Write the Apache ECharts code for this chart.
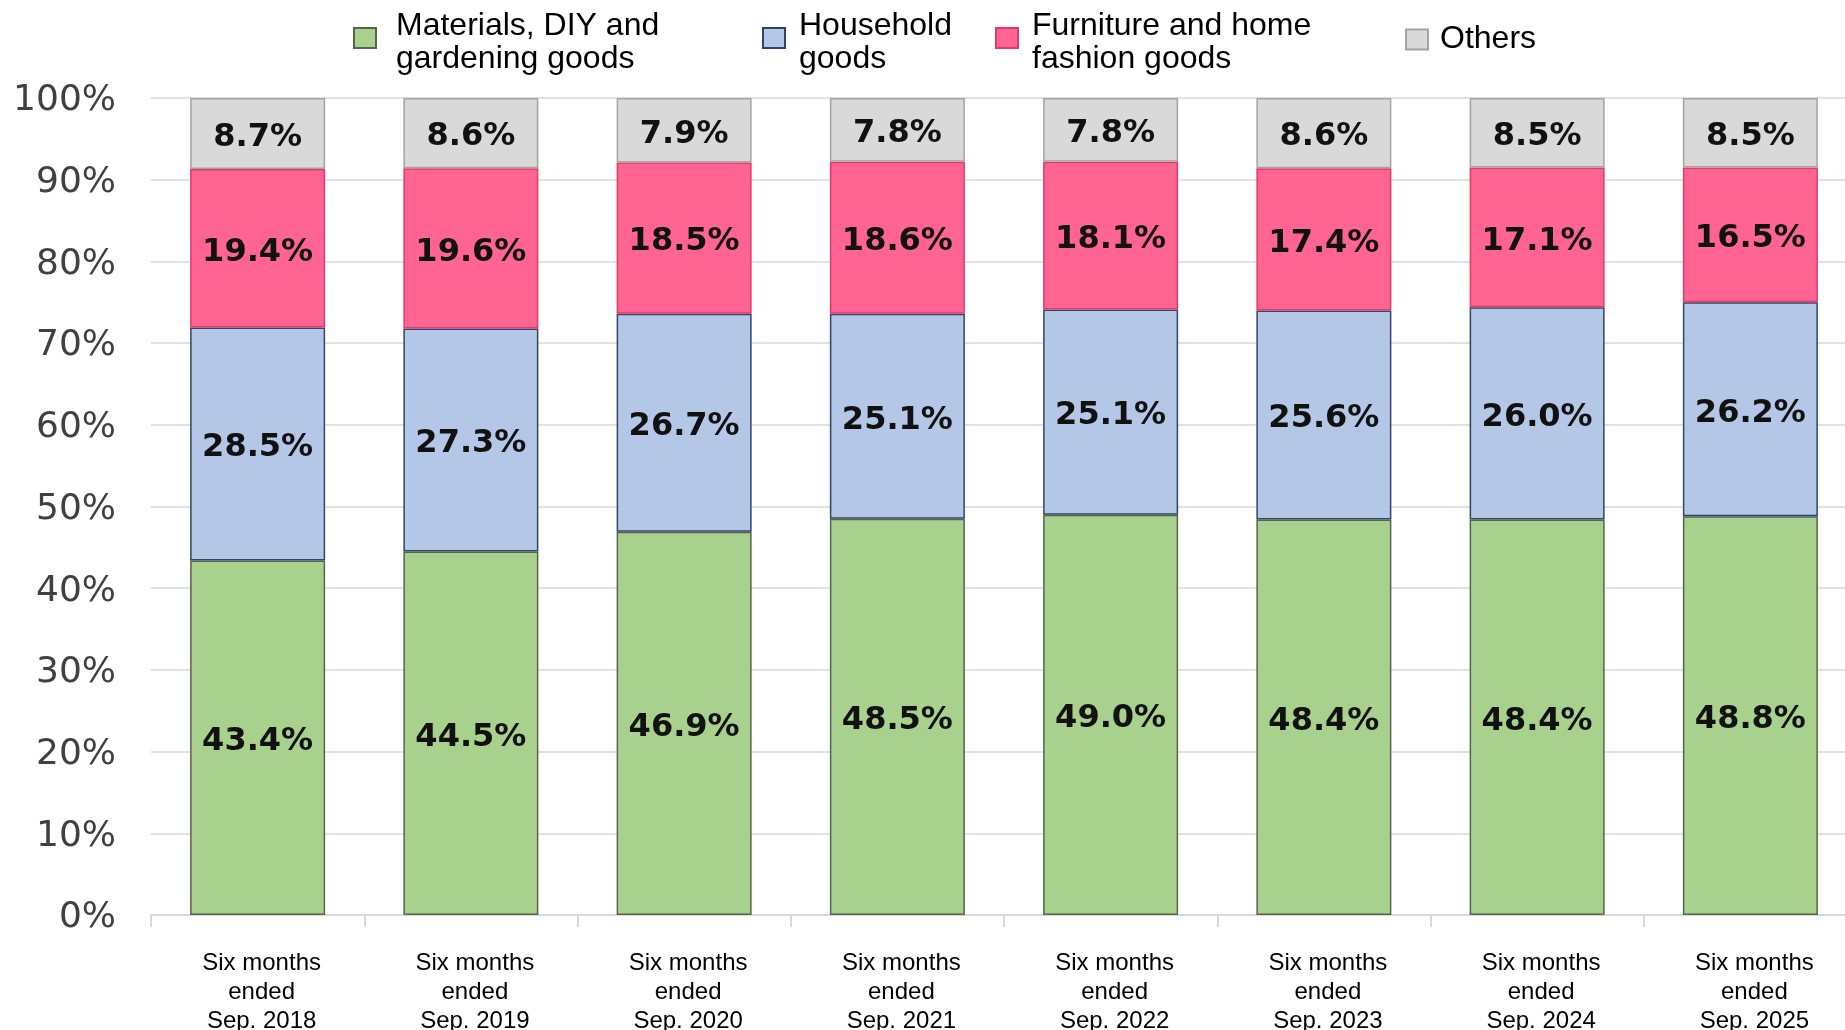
<!DOCTYPE html>
<html>
<head>
<meta charset="utf-8">
<style>
  html, body { margin: 0; padding: 0; background: #ffffff; overflow: hidden; }
  /* plot area runs a little past the right edge of the window */
  #chart { width: 1857px; height: 1030px; }
</style>
<script src="https://cdn.jsdelivr.net/npm/echarts@6/dist/echarts.min.js"></script>
</head>
<body>
<div id="chart"></div>
<script>
// Period labels along the category axis
const periods = [
  'Six months\nended\nSep. 2018',
  'Six months\nended\nSep. 2019',
  'Six months\nended\nSep. 2020',
  'Six months\nended\nSep. 2021',
  'Six months\nended\nSep. 2022',
  'Six months\nended\nSep. 2023',
  'Six months\nended\nSep. 2024',
  'Six months\nended\nSep. 2025'
];

// Sales composition by product category (% of total)
const materialsDiyGardening = [43.4, 44.5, 46.9, 48.5, 49.0, 48.4, 48.4, 48.8];
const householdGoods       = [28.5, 27.3, 26.7, 25.1, 25.1, 25.6, 26.0, 26.2];
const furnitureHomeFashion = [19.4, 19.6, 18.5, 18.6, 18.1, 17.4, 17.1, 16.5];
const others               = [8.7, 8.6, 7.9, 7.8, 7.8, 8.6, 8.5, 8.5];

const seriesNames = [
  'Materials, DIY and\ngardening goods',
  'Household\ngoods',
  'Furniture and home\nfashion goods',
  'Others'
];

// Y-axis ticks
const yMin = 0, yMax = 100, yStep = 10;

const styles = [
  { color: '#a9d18e', border: '#56654c' },
  { color: '#b4c7e7', border: '#34436a' },
  { color: '#ff6493', border: '#e23a62' },
  { color: '#d9d9d9', border: '#a3a3a3' }
];
const values = [materialsDiyGardening, householdGoods, furnitureHomeFashion, others];

const series = values.map((vals, i) => ({
  name: seriesNames[i],
  type: 'bar',
  stack: 'share',
  barWidth: 135,
  data: vals,
  itemStyle: {
    color: styles[i].color,
    borderColor: styles[i].border,
    borderWidth: 1.5
  },
  label: {
    show: true,
    position: 'inside',
    offset: [0, 4],
    formatter: p => p.value.toFixed(1) + '%',
    fontFamily: 'DejaVu Sans',
    fontWeight: 'bold',
    fontSize: 32,
    color: '#111111'
  },
  emphasis: { disabled: true }
}));

// Square swatch sitting in the upper part of a taller box, so the
// two-line captions hang slightly below the swatch
const raisedSquare = 'path://M0 0H22V20H0Z M0 30';

// One legend per entry so each sits at its own spot above the plot
const legendLefts = [353, 762, 995, 1405];
const legendTops = [10, 10, 10, 23];
const legendTextGaps = [15, 9, 9, 7];
const legends = seriesNames.map((name, i) => ({
  data: [name],
  left: legendLefts[i],
  top: legendTops[i],
  padding: 0,
  itemWidth: 22,
  itemHeight: i < 3 ? 30 : 20,
  icon: i < 3 ? raisedSquare : 'rect',
  selectedMode: false,
  textStyle: {
    fontFamily: 'Liberation Sans',
    fontSize: 32,
    lineHeight: 33,
    color: '#000000',
    padding: [0, 0, 0, legendTextGaps[i]]
  }
}));

const chart = echarts.init(document.getElementById('chart'), null, { renderer: 'canvas' });
chart.setOption({
  backgroundColor: '#ffffff',
  animation: false,
  legend: legends,
  grid: { left: 151, right: 0, top: 98, bottom: 115, outerBoundsMode: 'none' },
  xAxis: {
    type: 'category',
    data: periods,
    axisLine: { show: true, lineStyle: { color: '#d9d9d9', width: 2 } },
    axisTick: { show: true, length: 12, lineStyle: { color: '#d9d9d9', width: 2 } },
    axisLabel: {
      interval: 0,
      margin: 34,
      padding: [0, 0, 0, 8],
      fontFamily: 'Liberation Sans',
      fontSize: 24,
      lineHeight: 29,
      color: '#000000'
    }
  },
  yAxis: {
    type: 'value',
    min: yMin,
    max: yMax,
    interval: yStep,
    axisLine: { show: false },
    axisTick: { show: false },
    splitLine: { lineStyle: { color: '#d9d9d9', width: 1.5 } },
    axisLabel: {
      margin: 35,
      formatter: v => '{t|' + v + '%}',
      rich: {
        t: {
          fontFamily: 'DejaVu Sans',
          fontSize: 36,
          color: '#404040',
          padding: [6, 0, 0, 0]
        }
      }
    }
  },
  series: series
});
</script>
</body>
</html>
